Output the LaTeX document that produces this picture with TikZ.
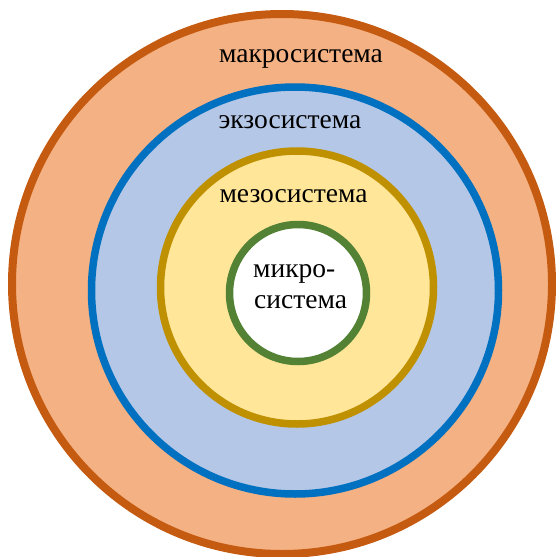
\documentclass[tikz,border=0pt]{standalone}
\usepackage{fontspec}
\setmainfont{Liberation Serif}
\definecolor{macroFill}{HTML}{F4B183}
\definecolor{macroLine}{HTML}{C55A11}
\definecolor{exoFill}{HTML}{B4C7E7}
\definecolor{exoLine}{HTML}{0070C0}
\definecolor{mesoFill}{HTML}{FFE699}
\definecolor{mesoLine}{HTML}{BF9000}
\definecolor{microLine}{HTML}{548235}
\tikzset{
  ring/.style={circle, inner sep=0pt, outer sep=0pt, line width=7.5pt},
  lbl/.style={inner sep=0pt, anchor=base, font=\fontsize{27.5}{33}\selectfont},
}
\begin{document}
\begin{tikzpicture}[x=1pt,y=-1pt]
  \useasboundingbox (0,0) rectangle (556,557);
  \node[ring, line width=8pt, draw=macroLine, fill=macroFill, minimum size=540pt] (macro) at (282,284) {};
  \node[ring, draw=exoLine, fill=exoFill, minimum size=407pt] (exo) at (295,290.5) {};
  \node[ring, draw=mesoLine, fill=mesoFill, minimum size=273pt] (meso) at (297,287.5) {};
  \node[ring, draw=microLine, fill=white, minimum size=137pt] (micro) at (298,293) {};
  \node[lbl] (tmacro) at (301,62) {макросистема};
  \node[lbl] (texo) at (290,128) {экзосистема};
  \node[lbl] (tmeso) at (293.5,202) {мезосистема};
  \node[lbl, anchor=base west] (tmicroA) at (253,277) {микро-};
  \node[lbl, anchor=base west] (tmicroB) at (254,308) {система};
\end{tikzpicture}
\end{document}
